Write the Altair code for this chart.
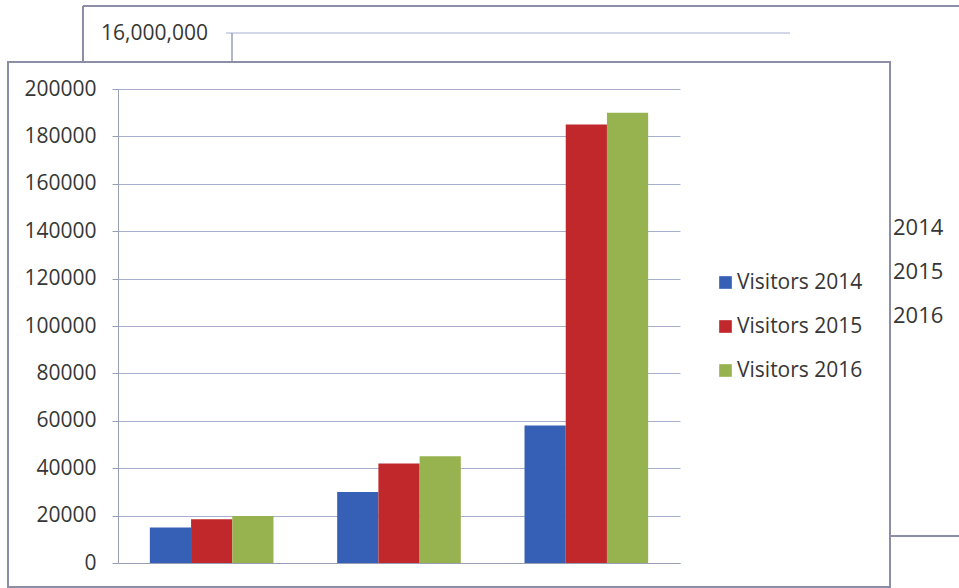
import altair as alt
import pandas as pd

# ---- data ----
groups = ["Group 1", "Group 2", "Group 3"]
series = ["Visitors 2014", "Visitors 2015", "Visitors 2016"]
visitors_2014 = [15000, 30000, 58000]
visitors_2015 = [18500, 42000, 185000]
visitors_2016 = [19800, 45000, 190000]
colors = ["#3560b6", "#c1282b", "#97b350"]
y_ticks = [0, 20000, 40000, 60000, 80000, 100000, 120000, 140000, 160000, 180000, 200000]
back_top_label = ["16,000,000"]
back_year_labels = ["2014", "2015", "2016"]

rows = []
for s, vals in zip(series, [visitors_2014, visitors_2015, visitors_2016]):
    for g, v in zip(groups, vals):
        rows.append({"group": g, "series": s, "value": v})
df = pd.DataFrame(rows)

FONT = "Open Sans"
TXT = "#363636"
FRAME = "#8a8ea6"
GRID = "#a8aed0"

bars = alt.Chart(df).mark_bar().encode(
    x=alt.X("group:N", sort=groups,
            scale=alt.Scale(paddingInner=0.34, paddingOuter=0.17),
            axis=alt.Axis(title=None, labels=False, ticks=False, domain=True,
                          domainColor="#9a9eb5", grid=False)),
    xOffset=alt.XOffset("series:N", sort=series,
                        scale=alt.Scale(paddingInner=0, paddingOuter=0)),
    y=alt.Y("value:Q", scale=alt.Scale(domain=[0, 200000], nice=False),
            axis=alt.Axis(title=None, values=y_ticks, format="d",
                          labelFont=FONT, labelFontSize=21, labelColor=TXT,
                          labelPadding=16, tickSize=6, tickColor="#9a9eb5",
                          domainColor="#9a9eb5", gridColor=GRID, gridWidth=1)),
    color=alt.Color("series:N", sort=series,
                    scale=alt.Scale(domain=series, range=colors),
                    legend=alt.Legend(title=None, orient="none", legendX=597, legendY=183,
                                      symbolType="square", symbolSize=160,
                                      symbolStrokeWidth=0,
                                      labelFont=FONT, labelFontSize=21, labelColor=TXT,
                                      labelOffset=1, rowPadding=22)),
)

one = pd.DataFrame({"k": [0]})

def rule(x1, x2, y1, y2, color=FRAME, w=2):
    return alt.Chart(one).mark_rule(color=color, strokeWidth=w).encode(
        x=alt.value(x1), x2=alt.value(x2), y=alt.value(y1), y2=alt.value(y2))

# back chart decorations
deco = [
    rule(-35, 860, -83, -83),
    rule(-35, -35, -83, -27),
    rule(772, 860, 447, 447),
    rule(108, 672, -56, -56, color=GRID, w=1),
    rule(114, 114, -56, -27, color="#9a9eb5", w=1.5),
]
back_text = alt.Chart(pd.DataFrame({"t": back_top_label})).mark_text(
    align="right", baseline="middle", font=FONT, fontSize=21, color=TXT
).encode(text="t:N", x=alt.value(90), y=alt.value(-55))

years_df = pd.DataFrame({"t": back_year_labels, "i": list(range(len(back_year_labels)))})
back_years = alt.Chart(years_df).mark_text(
    align="left", baseline="middle", font=FONT, fontSize=22, color=TXT
).transform_calculate(py="139 + datum.i * 44").encode(
    text="t:N", x=alt.value(775), y=alt.Y("py:Q", scale=None))

front_frame = alt.Chart(one).mark_rect(fillOpacity=0, stroke=FRAME, strokeWidth=2).encode(
    x=alt.value(-110), x2=alt.value(772), y=alt.value(-27), y2=alt.value(498))

chart = alt.layer(*deco, back_text, back_years, front_frame, bars).properties(
    width=562, height=474,
    padding={"left": 118, "top": 89, "right": 279, "bottom": 25},
    autosize=alt.AutoSizeParams(type="none"),
    background="white",
).configure_view(stroke=None)

chart.save("out.html", embed_options={"renderer": "svg", "actions": False})
